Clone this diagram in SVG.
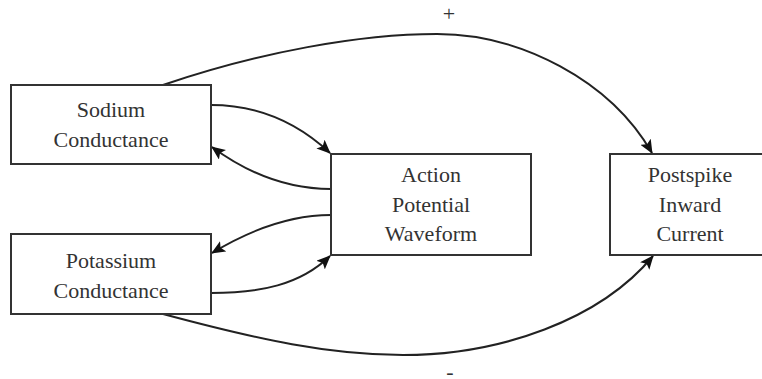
<svg xmlns="http://www.w3.org/2000/svg" width="762" height="379" viewBox="0 0 762 379">
<style>
.box{fill:#fff;stroke:#333;stroke-width:2}
.lbl{font-size:22px;fill:#333;text-anchor:middle}
.edge{fill:none;stroke:#222;stroke-width:2}
</style>
<defs>
<marker id="arr" markerWidth="14" markerHeight="12" refX="13" refY="6" orient="auto" markerUnits="userSpaceOnUse">
<path d="M0,0 L14,6 L0,12 L3,6 z" fill="#111"/>
</marker>
</defs>
<rect width="762" height="379" fill="#fff"/>
<g id="connectors">
<path class="edge" marker-end="url(#arr)" d="M163,85 C260,52 360,34 437,34 C520,34 610,80 652,153"/>
<path class="edge" marker-end="url(#arr)" d="M211,105 C260,105 300,125 330,153"/>
<path class="edge" marker-end="url(#arr)" d="M331,189 C290,189 250,175 212,147"/>
<path class="edge" marker-end="url(#arr)" d="M331,215 C290,215 250,230 212,253"/>
<path class="edge" marker-end="url(#arr)" d="M211,293 C260,293 300,285 330,256"/>
<path class="edge" marker-end="url(#arr)" d="M163,314 C260,340 330,355 403,355 C500,355 600,320 653,256"/>
<text class="lbl" font-family="'Liberation Serif', 'DejaVu Serif', serif" x="449" y="21">+</text>
<text class="lbl" font-family="'Liberation Serif', 'DejaVu Serif', serif" x="450" y="379">-</text>
</g>
<g id="sodium" font-family="'Liberation Serif', 'DejaVu Serif', serif">
<rect class="box" x="11" y="85" width="200" height="79"/>
<text class="lbl" x="111" y="117">Sodium</text>
<text class="lbl" x="111" y="147">Conductance</text>
</g>
<g id="potassium" font-family="'Liberation Serif', 'DejaVu Serif', serif">
<rect class="box" x="11" y="234" width="200" height="80"/>
<text class="lbl" x="111" y="268">Potassium</text>
<text class="lbl" x="111" y="298">Conductance</text>
</g>
<g id="action" font-family="'Liberation Serif', 'DejaVu Serif', serif">
<rect class="box" x="331" y="154" width="200" height="101"/>
<text class="lbl" x="431" y="182">Action</text>
<text class="lbl" x="431" y="212">Potential</text>
<text class="lbl" x="431" y="241">Waveform</text>
</g>
<g id="postspike" font-family="'Liberation Serif', 'DejaVu Serif', serif">
<rect class="box" x="610" y="154" width="160" height="101"/>
<text class="lbl" x="690" y="182">Postspike</text>
<text class="lbl" x="690" y="212">Inward</text>
<text class="lbl" x="690" y="241">Current</text>
</g>
</svg>
